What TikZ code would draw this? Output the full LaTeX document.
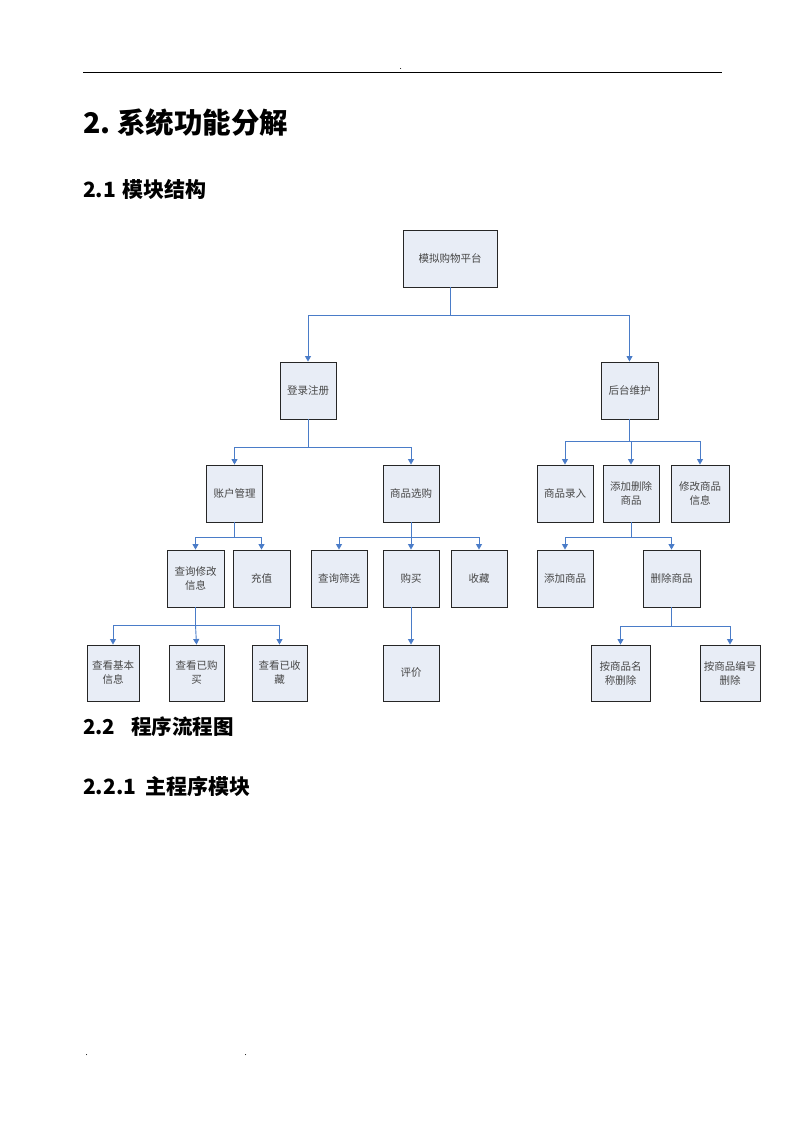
\documentclass[tikz,border=0pt]{standalone}
\usepackage{fontspec}
\newfontfamily\cjk{Noto Sans CJK SC}
\usetikzlibrary{arrows.meta}
\definecolor{boxfill}{HTML}{E8EDF6}
\definecolor{linkblue}{HTML}{4A7CC8}
\begin{document}
\begin{tikzpicture}[x=1pt,y=-1pt,
  box/.style={draw=black!85, fill=boxfill, line width=0.9pt, minimum width=56pt, minimum height=57pt, inner sep=1pt, align=center, text=black!72, font=\cjk\fontsize{10.5}{14}\selectfont},
  link/.style={draw=linkblue, line width=0.9pt},
  arr/.style={link, -{Triangle[width=6pt,length=5.5pt]}},
  head/.style={anchor=west, inner sep=0pt, font=\cjk\bfseries\fontsize{21}{24}\selectfont}]
\useasboundingbox (0,0) rectangle (794,1123);
% header
\draw[line width=0.7pt] (83,72) -- (722,72);
\fill (400.5,68.5) circle (0.5pt);
\fill (86.5,1054.5) circle (0.5pt);
\fill (245.5,1054.5) circle (0.5pt);
% headings
\node[head, font=\cjk\bfseries\fontsize{28.5}{32}\selectfont] (t1) at (83,123) {\makebox[34pt][l]{2.}系统功能分解};
\node[head] (t2) at (83,189) {\makebox[39pt][l]{2.1}模块结构};
\node[head, font=\cjk\bfseries\fontsize{20.5}{24}\selectfont] (t3) at (83,727) {\makebox[48pt][l]{2.2}程序流程图};
\node[head] (t4) at (83,786) {\makebox[62pt][l]{2.2.1}主程序模块};
% boxes
\node[box, minimum width=94pt] (root) at (450,258.5) {模拟购物平台};
\node[box] (login) at (308,390.5) {登录注册};
\node[box, minimum width=57pt] (back) at (629.5,390.5) {后台维护};
\node[box] (acct) at (234.5,493.5) {账户管理};
\node[box] (shop) at (411,493.5) {商品选购};
\node[box] (enter) at (565,493.5) {商品录入};
\node[box] (adddel) at (631,493.5) {添加删除\\商品};
\node[box, minimum width=58pt] (modify) at (700,493.5) {修改商品\\信息};
\node[box, minimum width=57pt] (query) at (195.5,578.5) {查询修改\\信息};
\node[box, minimum width=57pt] (charge) at (261.5,578.5) {充值};
\node[box] (filter) at (339,578.5) {查询筛选};
\node[box] (buy) at (411,578.5) {购买};
\node[box] (fav) at (479,578.5) {收藏};
\node[box] (add) at (565,578.5) {添加商品};
\node[box, minimum width=57pt] (del) at (671.5,578.5) {删除商品};
\node[box, minimum width=52pt, minimum height=56pt] (basic) at (113,673) {查看基本\\信息};
\node[box, minimum width=55pt, minimum height=56pt] (bought) at (196.5,673) {查看已购\\买};
\node[box, minimum width=55pt, minimum height=56pt] (faved) at (279.5,673) {查看已收\\藏};
\node[box, minimum height=56pt] (review) at (411,673) {评价};
\node[box, minimum width=59pt, minimum height=56pt] (byname) at (620.5,673) {按商品名\\称删除};
\node[box, minimum width=60pt, minimum height=56pt] (byid) at (730,673) {按商品编号\\删除};
% junctions
\coordinate (j1) at (450,315);
\coordinate (j2) at (308,447);
\coordinate (j3) at (629.5,441);
\coordinate (j4) at (234.5,537);
\coordinate (j5) at (411,537);
\coordinate (j6) at (631,537);
\coordinate (j7) at (195.5,625);
\coordinate (j8) at (671.5,626);
% connectors
\draw[link] (root.south) -- (j1);
\draw[arr] (j1) -| (login.north);
\draw[arr] (j1) -| (back.north);
\draw[link] (login.south) -- (j2);
\draw[arr] (j2) -| (acct.north);
\draw[arr] (j2) -| (shop.north);
\draw[link] (back.south) -- (j3);
\draw[arr] (j3) -| (enter.north);
\draw[arr] (j3) -| (adddel.north);
\draw[arr] (j3) -| (modify.north);
\draw[link] (acct.south) -- (j4);
\draw[arr] (j4) -| (query.north);
\draw[arr] (j4) -| (charge.north);
\draw[link] (shop.south) -- (j5);
\draw[arr] (j5) -| (filter.north);
\draw[arr] (j5) -- (buy.north);
\draw[arr] (j5) -| (fav.north);
\draw[link] (adddel.south) -- (j6);
\draw[arr] (j6) -| (add.north);
\draw[arr] (j6) -| (del.north);
\draw[link] (query.south) -- (j7);
\draw[arr] (j7) -| (basic.north);
\draw[arr] (j7) -- (bought.north);
\draw[arr] (j7) -| (faved.north);
\draw[arr] (buy.south) -- (review.north);
\draw[link] (del.south) -- (j8);
\draw[arr] (j8) -| (byname.north);
\draw[arr] (j8) -| (byid.north);
\end{tikzpicture}
\end{document}
